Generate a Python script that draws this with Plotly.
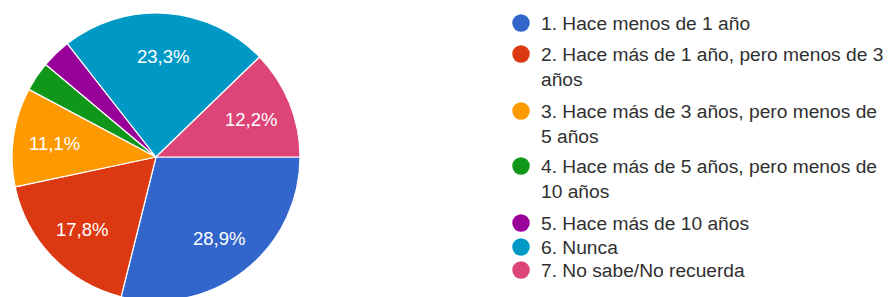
import math
import plotly.graph_objects as go

# ---- data ----
categories = [
    "1. Hace menos de 1 año",
    "2. Hace más de 1 año, pero menos de 3 años",
    "3. Hace más de 3 años, pero menos de 5 años",
    "4. Hace más de 5 años, pero menos de 10 años",
    "5. Hace más de 10 años",
    "6. Nunca",
    "7. No sabe/No recuerda",
]
legend_lines = [
    ["1. Hace menos de 1 año"],
    ["2. Hace más de 1 año, pero menos de 3", "años"],
    ["3. Hace más de 3 años, pero menos de", "5 años"],
    ["4. Hace más de 5 años, pero menos de", "10 años"],
    ["5. Hace más de 10 años"],
    ["6. Nunca"],
    ["7. No sabe/No recuerda"],
]
counts = [26, 16, 10, 3, 3, 21, 11]
colors = ["#3366cc", "#dc3912", "#ff9900", "#109618", "#990099", "#0099c6", "#dd4477"]

# ---- layout constants ----
W, H = 889, 305
FONT = "Liberation Sans, Arial, sans-serif"
total = sum(counts)
labels_txt = [
    (f"{c / total * 100:.1f}%".replace(".", ",") if c / total >= 0.05 else "")
    for c in counts
]

cx, cy, r = 156, 157, 144
label_r = 0.71 * r

fig = go.Figure()
fig.add_trace(go.Pie(
    labels=categories,
    values=counts,
    textinfo="none",
    marker=dict(colors=colors, line=dict(color="white", width=1.2)),
    sort=False,
    direction="clockwise",
    rotation=90,
    showlegend=False,
    hovertemplate="%{label}<br>%{value} (%{percent})<extra></extra>",
    domain=dict(x=[(cx - r) / W, (cx + r) / W], y=[(H - cy - r) / H, (H - cy + r) / H]),
))

annotations = []
# slice percentage labels, placed at the slice mid-angle (clockwise from 3 o'clock)
cum = 0
for c, t in zip(counts, labels_txt):
    a = 2 * math.pi * (cum + c / 2) / total
    cum += c
    if not t:
        continue
    annotations.append(dict(
        x=cx + label_r * math.cos(a), y=cy + label_r * math.sin(a) + 1,
        xref="x", yref="y", text=t, showarrow=False,
        xanchor="center", yanchor="middle",
        font=dict(size=18.5, color="white", family=FONT),
    ))

# custom legend (Google Charts style: circles, wrapped text)
item_top = [23, 54, 111, 166, 223, 247, 270]
line_pitch = 25
marker_x, text_x = 521, 539
fig.add_trace(go.Scatter(
    x=[marker_x] * len(categories), y=item_top, mode="markers",
    marker=dict(color=colors, size=17.5, symbol="circle"),
    hoverinfo="skip", showlegend=False,
))
for y0, lines in zip(item_top, legend_lines):
    for k, ln in enumerate(lines):
        annotations.append(dict(
            x=text_x, y=y0 + k * line_pitch, xref="x", yref="y",
            text=ln, showarrow=False, xanchor="left", yanchor="middle",
            font=dict(size=19.2, color="#303030", family=FONT),
        ))

fig.update_layout(
    width=W, height=H,
    margin=dict(l=0, r=0, t=0, b=0),
    paper_bgcolor="white", plot_bgcolor="rgba(0,0,0,0)",
    xaxis=dict(range=[0, W], visible=False, fixedrange=True),
    yaxis=dict(range=[H, 0], visible=False, fixedrange=True),
    annotations=annotations,
    showlegend=False,
)

fig.write_html(
    "out.html",
    config={"displayModeBar": False},
    post_script="document.body.style.margin='0';document.body.style.overflow='hidden';",
)
